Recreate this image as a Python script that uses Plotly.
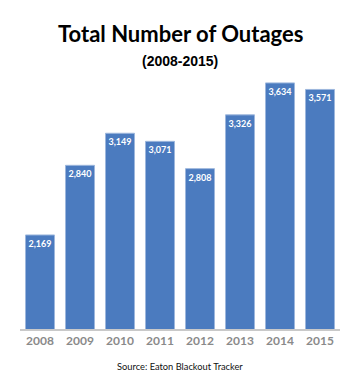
import plotly.graph_objects as go

years = ["2008", "2009", "2010", "2011", "2012", "2013", "2014", "2015"]
outages = [2169, 2840, 3149, 3071, 2808, 3326, 3634, 3571]
labels = [f"{v:,}" for v in outages]

OFF = 8  # browser body margin
W, H = 364 - OFF, 392 - OFF
L, R, T, B = 20 - OFF, 24, 80 - OFF, 63
ph = H - T - B

def py(p):
    return (H - B - (p - OFF)) / ph

fig = go.Figure(go.Bar(
    x=years, y=outages, text=labels,
    textposition="inside", insidetextanchor="end", textangle=0,
    textfont=dict(family="Lato", size=9, color="white", weight="bold"),
    marker=dict(color="#4b7bbf", line=dict(color="#9db7dd", width=1)),
    hoverinfo="skip", cliponaxis=False,
))

fig.update_layout(
    width=W, height=H,
    margin=dict(l=L, r=R, t=T, b=B),
    paper_bgcolor="white", plot_bgcolor="white",
    bargap=0.275, showlegend=False,
    xaxis=dict(showline=True, linecolor="#c9c9c9", linewidth=1.5, ticks="",
               tickfont=dict(family="Lato", size=12, color="#8a8a8a", weight="bold"),
               showgrid=False, zeroline=False),
    yaxis=dict(range=[1263, 3662], visible=False, showgrid=False, zeroline=False),
    annotations=[
        dict(text="Total Number of Outages", x=0.5, xref="paper", y=py(34), yref="paper",
             yanchor="middle", showarrow=False,
             font=dict(family="Lato", size=22, color="black", weight="bold")),
        dict(text="(2008-2015)", x=0.5, xref="paper", y=py(61), yref="paper",
             yanchor="middle", showarrow=False,
             font=dict(family="Liberation Sans", size=14, color="black", weight="bold")),
        dict(text="Source: Eaton Blackout Tracker", x=0.5, xref="paper", y=py(366), yref="paper",
             yanchor="middle", showarrow=False,
             font=dict(family="Lato", size=9.3, color="#111111")),
    ],
)

fig.write_html("out.html")
